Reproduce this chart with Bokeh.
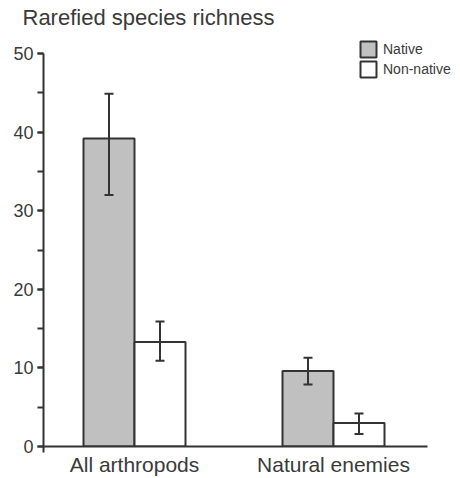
from bokeh.plotting import figure
from bokeh.models import (Range1d, ColumnDataSource, Whisker, TeeHead,
                          Legend, LegendItem, SingleIntervalTicker, FixedTicker)
from bokeh.embed import file_html
from bokeh.resources import INLINE

# ---- data ----
categories = ["All arthropods", "Natural enemies"]
native = [39.2, 9.6]
native_lo = [32.0, 7.9]
native_hi = [44.9, 11.3]
nonnative = [13.3, 3.0]
nonnative_lo = [10.9, 1.6]
nonnative_hi = [15.9, 4.2]
title_text = "Rarefied species richness"

# ---- layout positions (x data units: 1 unit = 100 px) ----
centers = [0.91, 2.90]
bar_w = 0.51
x_native = [c - bar_w / 2 for c in centers]
x_nonnative = [c + bar_w / 2 for c in centers]

FONT = "Liberation Sans"
TXT = "#3a3a3a"
LINE = "#333333"

p = figure(width=460, height=478, output_backend="svg", toolbar_location=None,
           x_range=Range1d(0, 4.17), y_range=Range1d(0, 52.7),
           frame_width=417,
           min_border_left=43, min_border_right=0, min_border_top=0, min_border_bottom=31)
p.title.text = title_text
p.title.align = "left"
p.title.offset = -21
p.title.standoff = 5
p.title.text_font = FONT
p.title.text_font_style = "normal"
p.title.text_font_size = "22px"
p.title.text_color = TXT

p.outline_line_color = None
p.xgrid.visible = False
p.ygrid.visible = False
p.background_fill_color = "white"
p.border_fill_color = "white"

src_n = ColumnDataSource(dict(x=x_native, top=native, lo=native_lo, hi=native_hi))
src_nn = ColumnDataSource(dict(x=x_nonnative, top=nonnative, lo=nonnative_lo, hi=nonnative_hi))

r_n = p.vbar(x="x", top="top", bottom=0, width=bar_w, source=src_n,
             fill_color="#c0c0c0", line_color=LINE, line_width=2)
r_nn = p.vbar(x="x", top="top", bottom=0, width=bar_w, source=src_nn,
              fill_color="white", line_color=LINE, line_width=2)

for src in (src_n, src_nn):
    w = Whisker(base="x", lower="lo", upper="hi", source=src, level="overlay",
                line_color=LINE, line_width=2,
                lower_head=TeeHead(size=9, line_color=LINE, line_width=2),
                upper_head=TeeHead(size=9, line_color=LINE, line_width=2))
    p.add_layout(w)

# y axis
ya = p.yaxis[0]
ya.ticker = SingleIntervalTicker(interval=10, num_minor_ticks=2)
ya.bounds = (0, 50)
ya.axis_line_color = LINE
ya.axis_line_width = 2
ya.major_tick_line_color = LINE
ya.major_tick_line_width = 2
ya.minor_tick_line_color = LINE
ya.minor_tick_line_width = 2
ya.major_tick_in = 0
ya.major_tick_out = 6
ya.minor_tick_in = 0
ya.minor_tick_out = 6
ya.major_label_standoff = 4
ya.major_label_text_font = FONT
ya.major_label_text_font_size = "18px"
ya.major_label_text_color = TXT

# x axis
xa = p.xaxis[0]
xa.ticker = FixedTicker(ticks=centers, minor_ticks=[0])
xa.major_label_overrides = {c: lab for c, lab in zip(centers, categories)}
xa.bounds = (0, 3.84)
xa.axis_line_color = LINE
xa.axis_line_width = 2
xa.major_tick_line_color = None
xa.major_tick_in = 0
xa.major_tick_out = 0
xa.minor_tick_line_color = LINE
xa.minor_tick_line_width = 2
xa.minor_tick_in = 0
xa.minor_tick_out = 6
xa.major_label_standoff = 0
xa.major_label_text_font = FONT
xa.major_label_text_font_size = "21px"
xa.major_label_text_color = TXT

# legend
legend = Legend(items=[LegendItem(label="Native", renderers=[r_n]),
                       LegendItem(label="Non-native", renderers=[r_nn])],
                location=(315, 367), glyph_width=20, glyph_height=20,
                spacing=0, padding=0, margin=0, label_standoff=5,
                label_height=20, border_line_color=None, background_fill_alpha=0,
                label_text_font=FONT, label_text_font_size="14px", label_text_color=TXT)
p.add_layout(legend)

open("out.html", "w").write(file_html(p, INLINE))
